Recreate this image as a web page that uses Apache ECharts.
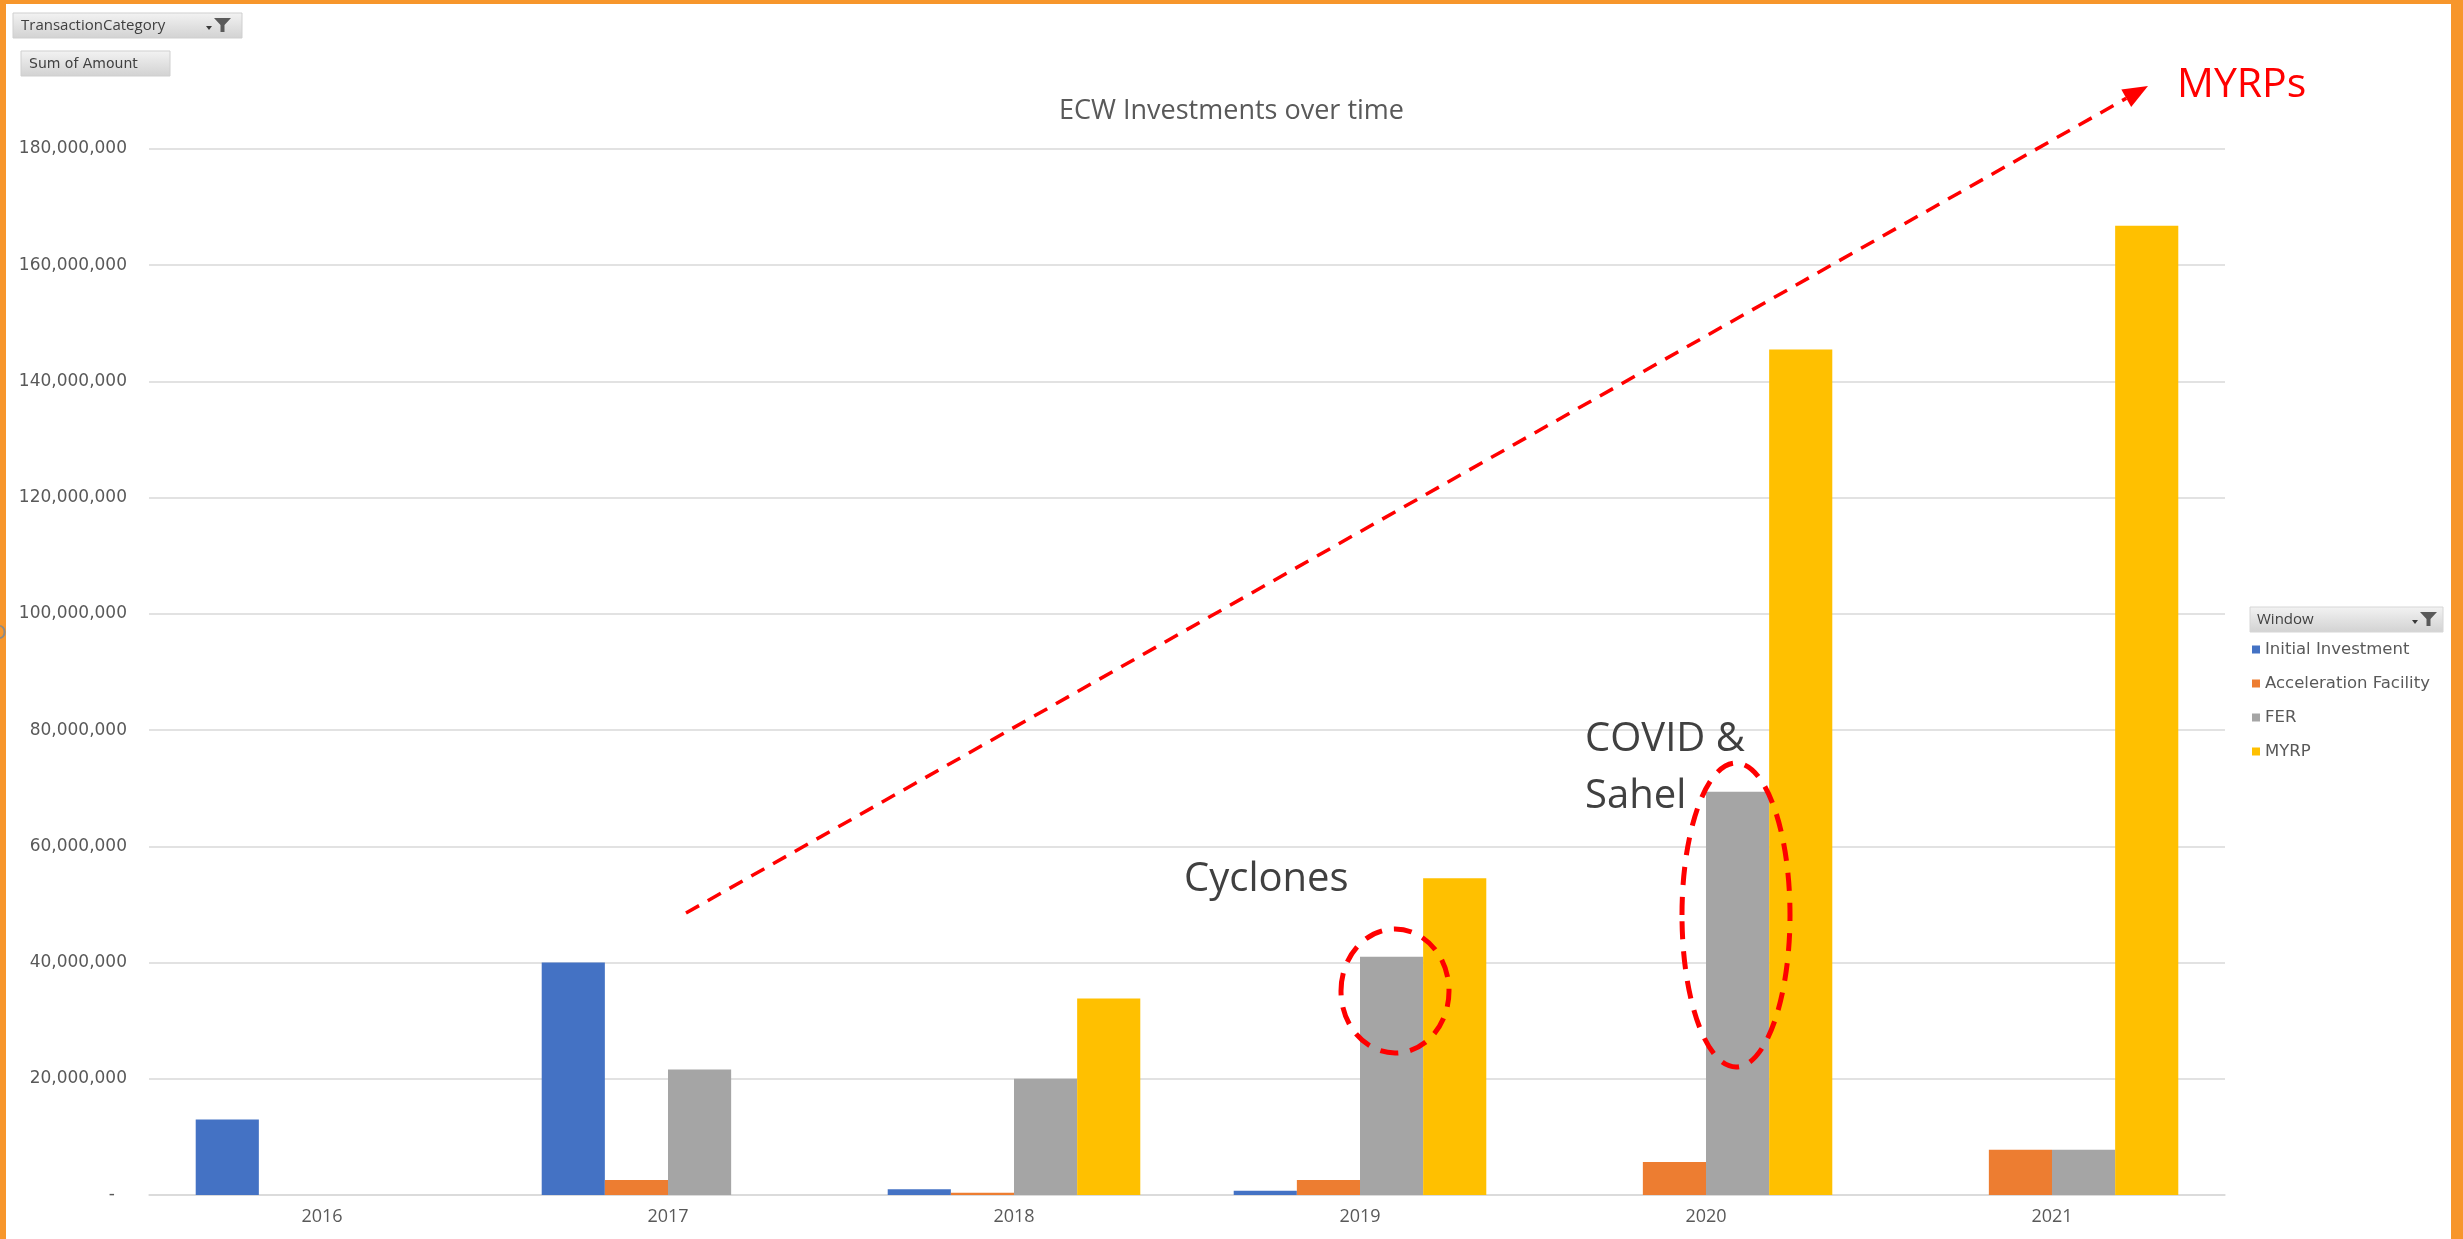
<!DOCTYPE html>
<html>
<head>
<meta charset="utf-8">
<script src="https://cdn.jsdelivr.net/npm/echarts@6/dist/echarts.min.js"></script>
<style>
html,body{margin:0;padding:0;background:#fff;}
#c{width:2463px;height:1239px;}
</style>
</head>
<body>
<div id="c"></div>
<script>
const years = ['2016', '2017', '2018', '2019', '2020', '2021'];
const initialInvestment = [13000000, 40000000, 1000000, 750000, null, null];
const accelerationFacility = [null, 2600000, 400000, 2600000, 5700000, 7800000];
const fer = [null, 21600000, 20000000, 41000000, 69400000, 7800000];
const myrp = [null, null, 33800000, 54500000, 145500000, 166800000];
const seriesNames = ['Initial Investment', 'Acceleration Facility', 'FER', 'MYRP'];
const seriesColors = ['#4472C4', '#ED7D31', '#A5A5A5', '#FFC000'];
const yMin = 0, yMax = 180000000, yStep = 20000000;

const chart = echarts.init(document.getElementById('c'), null, {renderer: 'canvas'});

function btnFill() {
  return new echarts.graphic.LinearGradient(0, 0, 0, 1, [
    {offset: 0, color: '#f3f3f3'}, {offset: 0.5, color: '#e2e2e2'}, {offset: 1, color: '#d2d2d2'}
  ]);
}
function funnel(x, y) {
  return [
    {type: 'polygon', z: 110, shape: {points: [[x, y], [x + 17, y], [x + 10.5, y + 7], [x + 10.5, y + 14], [x + 6.5, y + 14], [x + 6.5, y + 7]]}, style: {fill: '#5a5a5a'}},
    {type: 'polygon', z: 110, shape: {points: [[x - 8, y + 8], [x - 2, y + 8], [x - 5, y + 12]]}, style: {fill: '#3a3a3a'}}
  ];
}

// annotation arrow geometry
const aStart = [686, 913], aTip = [2148, 86];
const dx = aTip[0] - aStart[0], dy = aTip[1] - aStart[1];
const len = Math.sqrt(dx * dx + dy * dy);
const ux = dx / len, uy = dy / len, nx = -uy, ny = ux;
const headL = 25, headW = 10;
const bx = aTip[0] - headL * ux, by = aTip[1] - headL * uy;

const series = [initialInvestment, accelerationFacility, fer, myrp].map((d, i) => ({
  name: seriesNames[i],
  type: 'bar',
  data: d,
  barGap: '0%',
  barCategoryGap: '27%',
  itemStyle: {color: seriesColors[i]},
  emphasis: {disabled: true},
  animation: false
}));

chart.setOption({
  animation: false,
  backgroundColor: '#ffffff',
  title: {
    text: 'ECW Investments over time',
    left: 'center',
    top: 94,
    padding: 0,
    textStyle: {fontFamily: 'Open Sans', fontSize: 27, fontWeight: 'normal', color: '#595959', lineHeight: 34}
  },
  legend: {
    orient: 'vertical',
    left: 2247,
    top: 636,
    itemWidth: 8,
    itemHeight: 8,
    itemGap: 17,
    icon: 'rect',
    selectedMode: false,
    data: seriesNames,
    textStyle: {fontFamily: 'DejaVu Sans', fontSize: 16.5, color: '#595959', lineHeight: 16}
  },
  grid: {left: 149, right: 238, top: 149, bottom: 44, containLabel: false, outerBoundsMode: 'none'},
  xAxis: {
    type: 'category',
    data: years,
    axisTick: {show: false},
    axisLine: {lineStyle: {color: '#d9d9d9', width: 1.5}},
    axisLabel: {fontFamily: 'Open Sans', fontSize: 18, color: '#595959', margin: 13}
  },
  yAxis: {
    type: 'value',
    min: yMin,
    max: yMax,
    interval: yStep,
    axisLine: {show: false},
    axisTick: {show: false},
    splitLine: {lineStyle: {color: '#d9d9d9', width: 1.5}},
    axisLabel: {
      fontFamily: 'DejaVu Sans', fontSize: 17, color: '#595959', margin: 22,
      formatter: v => v === 0 ? '{d|-}' : v.toLocaleString('en-US'),
      rich: {d: {fontFamily: 'DejaVu Sans', fontSize: 17, color: '#595959', padding: [0, 12, 0, 0]}}
    }
  },
  series: series,
  graphic: [
    // orange frame
    {type: 'rect', z: 120, shape: {x: 0, y: 0, width: 6, height: 1239}, style: {fill: '#F7962B'}},
    {type: 'rect', z: 120, shape: {x: 0, y: 0, width: 2463, height: 4}, style: {fill: '#F7962B'}},
    {type: 'rect', z: 120, shape: {x: 2451, y: 0, width: 12, height: 1239}, style: {fill: '#F7962B'}},
    // pivot buttons
    {type: 'rect', z: 105, shape: {x: 13, y: 13, width: 229, height: 25}, style: {fill: btnFill(), stroke: '#cfcfcf', lineWidth: 1}},
    {type: 'text', z: 110, x: 21, y: 26, style: {text: 'TransactionCategory', fontFamily: 'Open Sans', fontSize: 15, fill: '#404040', verticalAlign: 'middle'}},
    ...funnel(214, 18),
    {type: 'rect', z: 105, shape: {x: 21, y: 51, width: 149, height: 25}, style: {fill: btnFill(), stroke: '#cfcfcf', lineWidth: 1}},
    {type: 'text', z: 110, x: 29, y: 64, style: {text: 'Sum of Amount', fontFamily: 'DejaVu Sans', fontSize: 14, fill: '#404040', verticalAlign: 'middle'}},
    // legend header
    {type: 'rect', z: 105, shape: {x: 2250, y: 607, width: 193, height: 25}, style: {fill: btnFill(), stroke: '#d6d6d6', lineWidth: 1}},
    {type: 'text', z: 110, x: 2257, y: 620, style: {text: 'Window', fontFamily: 'Open Sans', fontSize: 15, fill: '#404040', verticalAlign: 'middle'}},
    ...funnel(2420, 612),
    // clipped glyph at left edge
    {type: 'text', z: 125, x: -9, y: 634, style: {text: 'O', fontFamily: 'DejaVu Sans', fontSize: 20, fill: '#8a8a8a', verticalAlign: 'middle'}},
    // dashed arrow
    {type: 'line', z: 100, shape: {x1: aStart[0], y1: aStart[1], x2: bx, y2: by}, style: {stroke: '#FF0000', lineWidth: 3.5, lineDash: [15, 10]}},
    {type: 'polygon', z: 100, shape: {points: [[aTip[0], aTip[1]], [bx + headW * nx, by + headW * ny], [bx - headW * nx, by - headW * ny]]}, style: {fill: '#FF0000'}},
    {type: 'text', z: 100, x: 2177, y: 85, style: {text: 'MYRPs', fontFamily: 'Open Sans', fontSize: 41, fill: '#FF0000', verticalAlign: 'middle'}},
    // Cyclones
    {type: 'text', z: 100, x: 1184, y: 880, style: {text: 'Cyclones', fontFamily: 'Open Sans', fontSize: 40, fill: '#404040', verticalAlign: 'middle'}},
    {type: 'ellipse', z: 100, shape: {cx: 1395, cy: 991, rx: 54, ry: 62}, style: {fill: 'none', stroke: '#FF0000', lineWidth: 5, lineDash: [18, 12]}},
    // COVID & Sahel
    {type: 'text', z: 100, x: 1585, y: 740, style: {text: 'COVID &', fontFamily: 'Open Sans', fontSize: 40, fill: '#404040', verticalAlign: 'middle'}},
    {type: 'text', z: 100, x: 1585, y: 797, style: {text: 'Sahel', fontFamily: 'Open Sans', fontSize: 40, fill: '#404040', verticalAlign: 'middle'}},
    {type: 'ellipse', z: 100, shape: {cx: 1736, cy: 915, rx: 54, ry: 152}, style: {fill: 'none', stroke: '#FF0000', lineWidth: 5, lineDash: [18, 12]}}
  ]
});
</script>
</body>
</html>
